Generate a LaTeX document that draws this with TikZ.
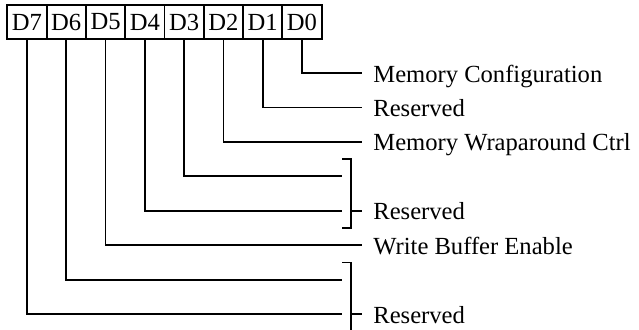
\documentclass[tikz,border=0pt]{standalone}
\usepackage{fontspec}
\setmainfont{Liberation Serif}
\usepackage{tikz}
\usetikzlibrary{calc}
\tikzset{
  bitcell/.style={draw, rectangle, line width=0.9pt, inner sep=0pt, outer sep=0pt, minimum width=19.65pt, minimum height=17pt, font=\fontsize{12.3}{14}\selectfont},
  fieldlbl/.style={anchor=west, inner xsep=5.5pt, inner ysep=0pt, text height=11pt, text depth=2pt, font=\fontsize{12.3}{14}\selectfont},
  wire/.style={line width=0.9pt},
  grouprule/.style={line width=0.9pt}
}

\begin{document}
\begin{tikzpicture}[x=0.5pt,y=-0.5pt]
  \useasboundingbox (0,0) rectangle (639,329);
  % register bits
  \foreach \i in {0,...,7} {\node[bitcell] (d\i) at ({302-39.29*\i},22) {D\i};}
  % field names
  \node[fieldlbl] (lbl0) at (362,73) {Memory Configuration};
  \node[fieldlbl] (lbl1) at (362,107.4) {Reserved};
  \node[fieldlbl] (lbl2) at (362,141.9) {Memory Wraparound Ctrl};
  \node[fieldlbl] (lbl4) at (362,210.7) {Reserved};
  \node[fieldlbl] (lbl5) at (362,245.1) {Write Buffer Enable};
  \node[fieldlbl] (lbl7) at (362,314) {Reserved};
  \foreach \i in {0,1,2,5} {\draw[wire] (d\i.south) |- (lbl\i.west);}
  % grouped bits stop at the bracket
  \coordinate (stub3) at (342,176.3);
  \coordinate (stub4) at (342,210.7);
  \coordinate (stub6) at (342,279.6);
  \coordinate (stub7) at (342,314);
  \foreach \i in {3,4,6,7} {\draw[wire] (d\i.south) |- (stub\i);}
  \coordinate (brAtop) at (351,159.1);
  \coordinate (brAbot) at (351,227.9);
  \coordinate (brBtop) at (351,262.4);
  \coordinate (brBbot) at (351,335);
  \draw[grouprule] (brAtop -| stub3) -- (brAtop) -- (brAbot) -- (brAbot -| stub3);
  \draw[grouprule] (brAtop |- lbl4.west) -- (lbl4.west);
  \draw[grouprule] (brBtop -| stub6) -- (brBtop) -- (brBbot);
  \draw[grouprule] (brBtop |- lbl7.west) -- (lbl7.west);
\end{tikzpicture}
\end{document}
